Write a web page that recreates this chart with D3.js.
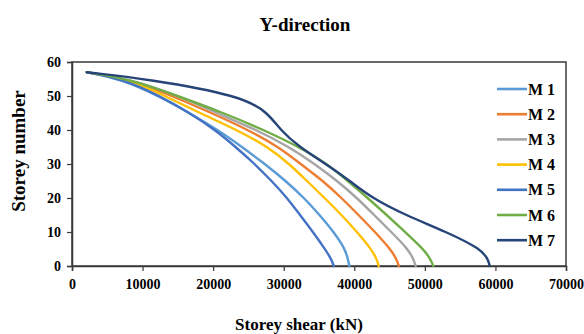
<!DOCTYPE html>
<html>
<head>
<meta charset="utf-8">
<script src="https://cdn.jsdelivr.net/npm/d3@7/dist/d3.min.js"></script>
<style>
  html, body { margin: 0; padding: 0; background: #fff; }
  svg { display: block; }
  text { font-family: "Liberation Serif", "Times New Roman", serif; font-weight: bold; fill: #000; }
</style>
</head>
<body>
<svg id="chart" width="584" height="334"></svg>
<script>
// Storey levels at which shear is sampled
const storeys = [57, 55, 50, 45, 40, 35, 30, 25, 20, 15, 10, 5, 2, 0];

// Storey shear (kN) per model, listed in the same order as `storeys`
const m1 = [2100, 6900, 12300, 16600, 20700, 24100, 27350, 30300, 32900, 35100, 37100, 38700, 39100, 39300];
const m2 = [2100, 8000, 14200, 19800, 25000, 29300, 32400, 35600, 38200, 40600, 42950, 45100, 46000, 46300];
const m3 = [2100, 8100, 15200, 20500, 26200, 30800, 34400, 37600, 40400, 42800, 45250, 47600, 48400, 48700];
const m4 = [2100, 7900, 13200, 18100, 23400, 27800, 30800, 33300, 35800, 38200, 40400, 42400, 43200, 43450];
const m5 = [2100, 7100, 12500, 16700, 20300, 23200, 25900, 28300, 30500, 32300, 34150, 35850, 36750, 37100];
const m6 = [2100, 8100, 15000, 21500, 27200, 32200, 36200, 39100, 41900, 44600, 47200, 49800, 50800, 51200];
const m7 = [2100, 10800, 24100, 27800, 29500, 32200, 36000, 39400, 42500, 47200, 53100, 57950, 58950, 59200];

const seriesNames = ["M 1", "M 2", "M 3", "M 4", "M 5", "M 6", "M 7"];
const seriesValues = [m1, m2, m3, m4, m5, m6, m7];
const seriesColors = ["#5B9BD5", "#ED7D31", "#A5A5A5", "#FFC000", "#4472C4", "#70AD47", "#264478"];

const xTicks = [0, 10000, 20000, 30000, 40000, 50000, 60000, 70000];
const yTicks = [0, 10, 20, 30, 40, 50, 60];

const svg = d3.select("#chart");
const plot = { left: 72, right: 566, top: 62, bottom: 266 };

const x = d3.scaleLinear().domain([0, 70000]).range([plot.left, plot.right]);
const y = d3.scaleLinear().domain([0, 60]).range([plot.bottom, plot.top]);

const axisColor = "#3a3a3a";

// Frame around the plotting area
svg.append("rect")
  .attr("x", plot.left).attr("y", plot.top)
  .attr("width", plot.right - plot.left).attr("height", plot.bottom - plot.top)
  .attr("fill", "none").attr("stroke", axisColor).attr("stroke-width", 1.5);

// Axes
const xAxis = svg.append("g")
  .attr("transform", `translate(0,${plot.bottom})`)
  .call(d3.axisBottom(x).tickValues(xTicks).tickFormat(d3.format("d")).tickSizeOuter(0).tickSize(5).tickPadding(8));
const yAxis = svg.append("g")
  .attr("transform", `translate(${plot.left},0)`)
  .call(d3.axisLeft(y).tickValues(yTicks).tickSizeOuter(0).tickSize(5).tickPadding(6));

[xAxis, yAxis].forEach(g => {
  g.select(".domain").attr("stroke", axisColor).attr("stroke-width", 1.5);
  g.selectAll(".tick line").attr("stroke", axisColor).attr("stroke-width", 1.2);
  g.selectAll(".tick text")
    .attr("fill", "#000")
    .style("font-family", '"Liberation Serif", "Times New Roman", serif')
    .style("font-weight", "bold")
    .style("font-size", "14px");
});

// Series curves, smoothed through the sampled storeys
const line = d3.line()
  .x(d => x(d.v))
  .y(d => y(d.s))
  .curve(d3.curveBasis);

seriesValues.forEach((vals, i) => {
  const pts = storeys.map((s, k) => ({ s: s, v: vals[k] }));
  svg.append("path")
    .datum(pts)
    .attr("fill", "none")
    .attr("stroke", seriesColors[i])
    .attr("stroke-width", 2.4)
    .attr("stroke-linecap", "round")
    .attr("stroke-linejoin", "round")
    .attr("d", line);
});

// Legend
const legend = svg.append("g").attr("transform", "translate(497,89)");
seriesNames.forEach((name, i) => {
  const row = legend.append("g").attr("transform", `translate(0,${i * 25.2})`);
  row.append("line")
    .attr("x1", 0).attr("x2", 30).attr("y1", 0).attr("y2", 0)
    .attr("stroke", seriesColors[i]).attr("stroke-width", 2.6);
  row.append("text")
    .attr("x", 31).attr("y", 5.5)
    .style("font-size", "16px")
    .text(name);
});

// Titles
svg.append("text")
  .attr("x", 305).attr("y", 31)
  .attr("text-anchor", "middle")
  .style("font-size", "19px")
  .text("Y-direction");

svg.append("text")
  .attr("x", 299).attr("y", 330)
  .attr("text-anchor", "middle")
  .style("font-size", "17px")
  .text("Storey shear (kN)");

svg.append("text")
  .attr("transform", "translate(25,151) rotate(-90)")
  .attr("text-anchor", "middle")
  .style("font-size", "19px")
  .text("Storey number");
</script>
</body>
</html>
